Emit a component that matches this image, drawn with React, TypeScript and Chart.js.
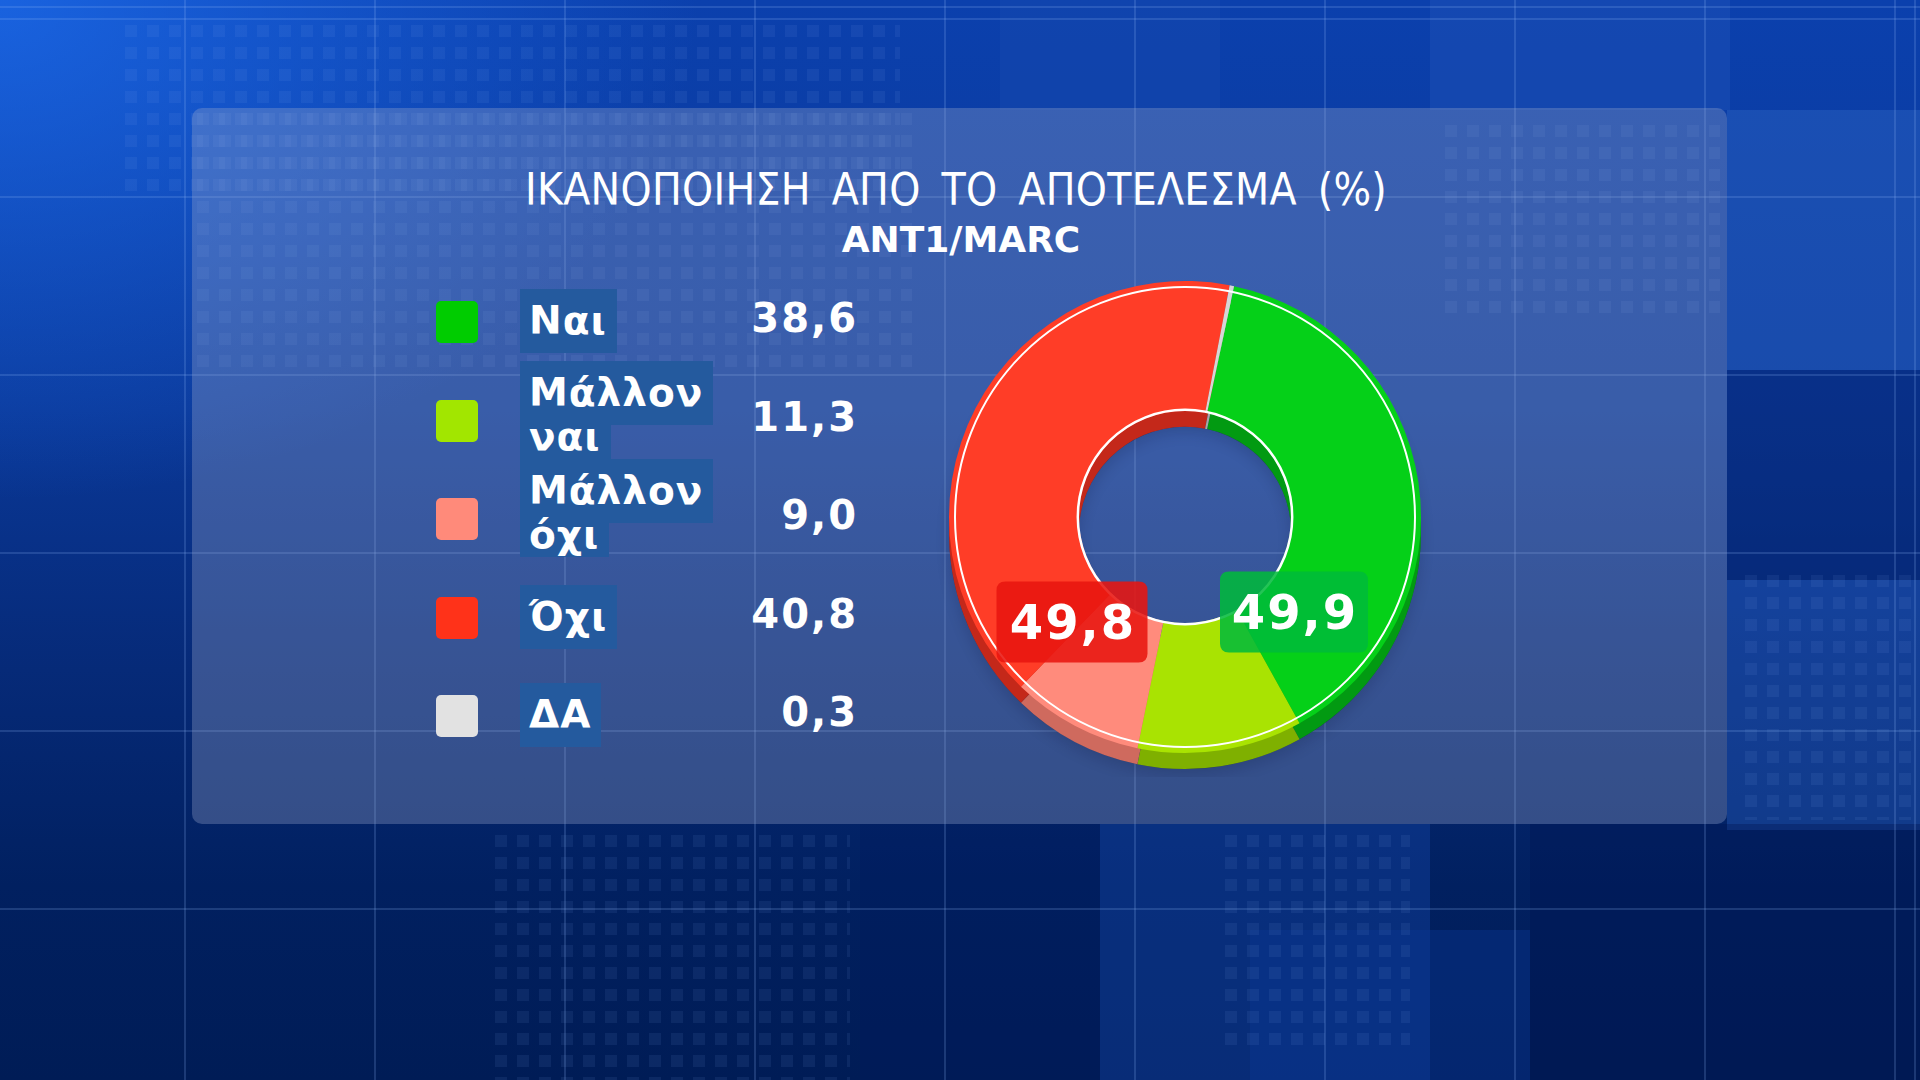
import React, { useEffect, useRef } from "react";
import { Chart, registerables } from "chart.js";

Chart.register(...registerables);

// ---------------- data ----------------
const TITLE = "ΙΚΑΝΟΠΟΙΗΣΗ ΑΠΟ ΤΟ ΑΠΟΤΕΛΕΣΜΑ (%)";
const SUBTITLE = "ANT1/MARC";
const categories = ["Ναι", "Μάλλον ναι", "Μάλλον όχι", "Όχι", "ΔΑ"];
const values = [38.6, 11.3, 9.0, 40.8, 0.3];
const positiveGroup = [0, 1];
const negativeGroup = [2, 3];

// ---------------- styles ----------------
const sliceColors = ["#05d018", "#a9e302", "#ff8b7c", "#ff3d27", "#d6d6d6"];
const edgeColors = ["#029a12", "#7fb000", "#cf6a5e", "#c4281a", "#a8a8a8"];
const legendColors = ["#00cc00", "#a2e600", "#ff8a7a", "#ff3219", "#e2e2e2"];

const fmt = (v: number) => v.toFixed(1).replace(".", ",");
const sumOf = (idx: number[]) => idx.reduce((s, i) => s + values[i], 0);

const TITLE_FONT = "'DejaVu Sans Condensed', 'DejaVu Sans', sans-serif";
const BOLD_FONT = "'DejaVu Sans', 'Noto Sans', sans-serif";

const dotUrl =
  "url(\"data:image/svg+xml,%3Csvg xmlns='http://www.w3.org/2000/svg' width='22' height='22'%3E%3Crect x='5' y='5' width='12' height='12' fill='%2380a8ee'/%3E%3C/svg%3E\")";

function roundRect(ctx: CanvasRenderingContext2D, x: number, y: number, w: number, h: number, r: number) {
  ctx.beginPath();
  ctx.moveTo(x + r, y);
  ctx.lineTo(x + w - r, y);
  ctx.quadraticCurveTo(x + w, y, x + w, y + r);
  ctx.lineTo(x + w, y + h - r);
  ctx.quadraticCurveTo(x + w, y + h, x + w - r, y + h);
  ctx.lineTo(x + r, y + h);
  ctx.quadraticCurveTo(x, y + h, x, y + h - r);
  ctx.lineTo(x, y + r);
  ctx.quadraticCurveTo(x, y, x + r, y);
  ctx.closePath();
}

const donutDecor = {
  id: "donutDecor",
  beforeDatasetsDraw(chart: any) {
    const meta = chart.getDatasetMeta(0);
    const ctx: CanvasRenderingContext2D = chart.ctx;
    const depth = 16;
    if (!meta.data.length) return;
    const a0 = meta.data[0];
    ctx.save();
    ctx.shadowColor = "rgba(0,10,40,0.55)";
    ctx.shadowBlur = 14;
    ctx.shadowOffsetY = 6;
    ctx.beginPath();
    ctx.arc(a0.x, a0.y + depth, a0.outerRadius, 0, Math.PI * 2);
    ctx.arc(a0.x, a0.y + depth, a0.innerRadius, Math.PI * 2, 0, true);
    ctx.closePath();
    ctx.fillStyle = "rgba(0,0,0,0.3)";
    ctx.fill();
    ctx.restore();
    ctx.save();
    meta.data.forEach((arc: any, i: number) => {
      ctx.beginPath();
      ctx.arc(arc.x, arc.y + depth, arc.outerRadius, arc.startAngle, arc.endAngle);
      ctx.arc(arc.x, arc.y + depth, arc.innerRadius, arc.endAngle, arc.startAngle, true);
      ctx.closePath();
      ctx.fillStyle = edgeColors[i];
      ctx.fill();
    });
    ctx.restore();
  },
  afterDatasetsDraw(chart: any) {
    const meta = chart.getDatasetMeta(0);
    const ctx: CanvasRenderingContext2D = chart.ctx;
    if (!meta.data.length) return;
    const a0 = meta.data[0];
    const cx = a0.x;
    const cy = a0.y;
    ctx.save();
    ctx.strokeStyle = "#ffffff";
    ctx.lineWidth = 2;
    ctx.beginPath();
    ctx.arc(cx, cy, a0.outerRadius - 6, 0, Math.PI * 2);
    ctx.stroke();
    ctx.lineWidth = 2.5;
    ctx.beginPath();
    ctx.arc(cx, cy, a0.innerRadius + 1, 0, Math.PI * 2);
    ctx.stroke();

    const boxes = [
      { text: fmt(sumOf(negativeGroup)), dx: -113, dy: 105, w: 151, h: 81, fill: "rgba(232,22,16,0.88)" },
      { text: fmt(sumOf(positiveGroup)), dx: 109, dy: 95, w: 148, h: 81, fill: "rgba(0,186,58,0.86)" },
    ];
    boxes.forEach((b) => {
      const bx = cx + b.dx - b.w / 2;
      const by = cy + b.dy - b.h / 2;
      roundRect(ctx, bx, by, b.w, b.h, 9);
      ctx.fillStyle = b.fill;
      ctx.fill();
      ctx.fillStyle = "#ffffff";
      ctx.font = `bold 48px ${BOLD_FONT}`;
      ctx.textAlign = "center";
      ctx.textBaseline = "alphabetic";
      (ctx as any).letterSpacing = "2px";
      ctx.fillText(b.text, cx + b.dx + 1, cy + b.dy + 17);
    });
    ctx.restore();
  },
};

const ROW0 = 322;
const ROW_PITCH = 98.5;

export default function App() {
  const canvasRef = useRef<HTMLCanvasElement | null>(null);

  useEffect(() => {
    document.body.style.margin = "0";
    const el = canvasRef.current;
    if (!el) return;
    const chart = new Chart(el, {
      type: "doughnut",
      data: {
        labels: categories,
        datasets: [
          {
            data: values,
            backgroundColor: sliceColors,
            borderWidth: 0,
            hoverOffset: 0,
            offset: 0,
          },
        ],
      },
      options: {
        animation: false,
        responsive: false,
        maintainAspectRatio: false,
        cutout: "45%",
        rotation: 12,
        layout: { padding: 24 },
        plugins: {
          legend: { display: false },
          tooltip: { enabled: false },
          title: { display: false },
        },
        events: [],
      },
      plugins: [donutDecor],
    });
    return () => chart.destroy();
  }, []);

  const rects: [number, number, number, number, string][] = [
    [1000, 0, 220, 110, "rgba(25,75,175,0.4)"],
    [1430, 0, 300, 110, "rgba(35,85,185,0.4)"],
    [1727, 110, 193, 260, "rgba(45,100,195,0.45)"],
    [1727, 370, 193, 210, "rgba(5,35,110,0.4)"],
    [1727, 580, 193, 250, "rgba(40,95,195,0.4)"],
    [1100, 824, 330, 256, "rgba(20,70,170,0.4)"],
    [1530, 824, 390, 256, "rgba(0,20,80,0.35)"],
    [1250, 930, 280, 150, "rgba(10,55,150,0.4)"],
    [860, 824, 240, 256, "rgba(0,25,90,0.25)"],
  ];
  const dots: [number, number, number, number][] = [
    [120, 20, 780, 180],
    [192, 108, 720, 260],
    [490, 830, 360, 250],
    [1220, 830, 190, 220],
    [1740, 570, 180, 250],
    [1440, 120, 280, 200],
  ];

  return (
    <div
      style={{
        position: "fixed",
        left: 0,
        top: 0,
        width: 1920,
        height: 1080,
        overflow: "hidden",
        background:
          "radial-gradient(ellipse 700px 500px at 0px 0px, rgba(30,110,240,0.75), rgba(30,110,240,0) 100%), linear-gradient(180deg, #0b40ad 0%, #0a3898 38%, #062a78 62%, #012060 82%, #001c56 100%)",
      }}
    >
      {rects.map(([x, y, w, h, c], i) => (
        <div key={"r" + i} style={{ position: "absolute", left: x, top: y, width: w, height: h, background: c }} />
      ))}
      {dots.map(([x, y, w, h], i) => (
        <div
          key={"d" + i}
          style={{
            position: "absolute",
            left: x,
            top: y,
            width: w,
            height: h,
            backgroundImage: dotUrl,
            opacity: 0.09,
          }}
        />
      ))}
      {/* grid lines */}
      <div
        style={{
          position: "absolute",
          inset: 0,
          backgroundImage:
            "repeating-linear-gradient(90deg, rgba(140,180,245,0.2) 0 2px, transparent 2px 190px), repeating-linear-gradient(180deg, rgba(140,180,245,0.2) 0 2px, transparent 2px 178px)",
          backgroundPosition: "-6px 18px",
        }}
      />
      {/* panel */}
      <div
        style={{
          position: "absolute",
          left: 192,
          top: 108,
          width: 1535,
          height: 716,
          borderRadius: 10,
          background: "rgba(160,172,205,0.32)",
        }}
      />
      {/* title */}
      <div
        style={{
          position: "absolute",
          left: 0,
          width: 1912,
          top: 164,
          lineHeight: "52px",
          fontSize: 44,
          fontFamily: TITLE_FONT,
          color: "#ffffff",
          textAlign: "center",
          wordSpacing: 8,
          letterSpacing: 0.3,
          whiteSpace: "nowrap",
        }}
      >
        {TITLE}
      </div>
      <div
        style={{
          position: "absolute",
          left: 0,
          width: 1922,
          top: 218,
          lineHeight: "44px",
          fontSize: 36,
          fontWeight: "bold",
          fontFamily: BOLD_FONT,
          color: "#ffffff",
          textAlign: "center",
          whiteSpace: "nowrap",
        }}
      >
        {SUBTITLE}
      </div>
      {/* legend */}
      {categories.map((cat, i) => {
        const yc = ROW0 + ROW_PITCH * i;
        const parts = cat.split(" ");
        const boxBg = "#245a9e";
        const textStyle: React.CSSProperties = {
          position: "absolute",
          left: 520,
          padding: "0 10px 0 9px",
          fontSize: 39,
          fontWeight: "bold",
          fontFamily: BOLD_FONT,
          color: "#ffffff",
          background: boxBg,
          whiteSpace: "nowrap",
          letterSpacing: 1,
        };
        return (
          <React.Fragment key={cat}>
            <div
              style={{
                position: "absolute",
                left: 436,
                top: yc - 21,
                width: 42,
                height: 42,
                borderRadius: 5,
                background: legendColors[i],
              }}
            />
            {parts.length === 1 ? (
              <div style={{ ...textStyle, top: yc - 33, height: 64, lineHeight: "64px" }}>{parts[0]}</div>
            ) : (
              <>
                <div style={{ ...textStyle, top: yc - 60, height: 64, lineHeight: "64px" }}>{parts[0]}</div>
                <div style={{ ...textStyle, top: yc - 6, height: 44, lineHeight: "44px" }}>{parts[1]}</div>
              </>
            )}
            <div
              style={{
                position: "absolute",
                right: 1920 - 858,
                top: yc - 29,
                lineHeight: "50px",
                fontSize: 40,
                fontWeight: "bold",
                fontFamily: BOLD_FONT,
                color: "#ffffff",
                letterSpacing: 2,
                whiteSpace: "nowrap",
              }}
            >
              {fmt(values[i])}
            </div>
          </React.Fragment>
        );
      })}
      {/* donut */}
      <canvas
        ref={canvasRef}
        width={520}
        height={520}
        style={{ position: "absolute", left: 925, top: 257, width: 520, height: 520 }}
      />
    </div>
  );
}
